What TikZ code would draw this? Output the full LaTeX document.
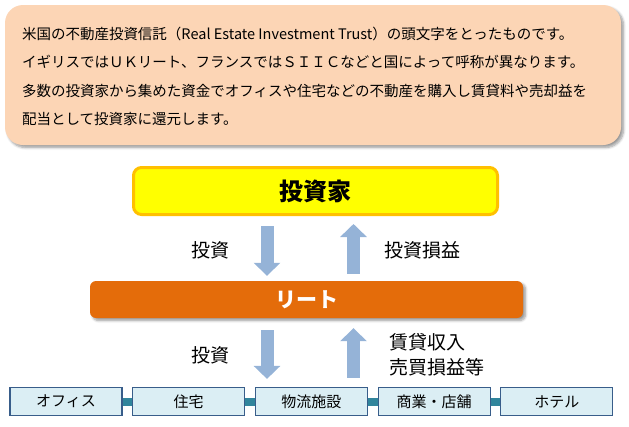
\documentclass[tikz,border=0pt]{standalone}
\usepackage{fontspec}
\setmainfont{Noto Sans CJK JP}
\usetikzlibrary{arrows.meta,positioning,shadows.blur}
\definecolor{jpeach}{HTML}{FCD5B5}
\definecolor{jyellow}{HTML}{FFFF00}
\definecolor{jgold}{HTML}{FFC000}
\definecolor{jorange}{HTML}{E46C0A}
\definecolor{jarrow}{HTML}{95B3D7}
\definecolor{jcell}{HTML}{DBEEF4}
\definecolor{jcellline}{HTML}{385D8A}
\definecolor{jlink}{HTML}{31859C}

\tikzset{
  softshadow/.style={blur shadow={shadow xshift=2.5pt,shadow yshift=-2.5pt,
      shadow blur steps=6,shadow blur radius=2.5pt,shadow opacity=40}},
  flowarrow/.style={jarrow,line width=13pt,-{Triangle[width=26pt,length=13pt]}},
  arrowlabel/.style={font=\fontsize{19}{25}\selectfont,inner sep=0pt},
  cell/.style={draw=jcellline,fill=jcell,line width=1.2pt,minimum width=112pt,
      minimum height=28pt,inner sep=0pt,font=\fontsize{15}{18}\selectfont},
  cellink/.style={jlink,line width=8pt}
}

\begin{document}
\begin{tikzpicture}[x=1pt,y=-1pt]
  \useasboundingbox (0,0) rectangle (629,426);

  % ---- Explanation box ------------------------------------
  \node[fill=jpeach,rounded corners=18pt,softshadow,minimum width=616pt,
        minimum height=140pt,inner sep=0pt] (intro) at (313,75) {};
  \node[anchor=west,align=left,inner sep=0pt,
        font=\fontsize{14.5}{28.3}\selectfont] (introtext) at ([xshift=17pt,yshift=-1.5pt]intro.west)
    {米国の不動産投資信託（Real Estate Investment Trust）の頭文字をとったものです。\\
     イギリスではＵＫリート、フランスではＳＩＩＣなどと国によって呼称が異なります。\\
     多数の投資家から集めた資金でオフィスや住宅などの不動産を購入し賃貸料や売却益を\\
     配当として投資家に還元します。};

  % ---- Investor and REIT ----------------------------------
  \node[draw=jgold,fill=jyellow,line width=3pt,rounded corners=8pt,
        minimum width=364pt,minimum height=47pt,
        font=\fontsize{24}{28}\selectfont\bfseries] (investor) at (315.5,191) {投資家};
  \node[fill=jorange,rounded corners=6pt,softshadow,text=white,
        minimum width=433pt,minimum height=37pt,
        font=\fontsize{21}{25}\selectfont\bfseries] (reit) at (306.5,299.5) {リート};

  % ---- Properties -----------------------------------------
  \node[cell] (office) at (66,401.5) {オフィス};
  \node[cell,right=9.5pt of office] (house) {住宅};
  \node[cell,right=9.5pt of house] (logistics) {物流施設};
  \node[cell,right=9.5pt of logistics] (retail) {商業・店舗};
  \node[cell,right=9.5pt of retail] (hotel) {ホテル};
  \draw[cellink] (office) -- (house);
  \draw[cellink] (house) -- (logistics);
  \draw[cellink] (logistics) -- (retail);
  \draw[cellink] (retail) -- (hotel);

  % ---- Money flows ----------------------------------------
  \coordinate (dn) at (267,0);
  \coordinate (up) at (353.5,0);
  \draw[flowarrow,shorten <=10pt,shorten >=5pt] (dn |- investor.south) -- (dn |- reit.north);
  \draw[flowarrow,shorten <=7pt,shorten >=8pt] (up |- reit.north) -- (up |- investor.south);
  \draw[flowarrow,shorten <=12pt,shorten >=8pt] (dn |- reit.south) -- (dn |- logistics.north);
  \draw[flowarrow,shorten <=9pt,shorten >=10pt] (up |- logistics.north) -- (up |- reit.south);

  % Labels
  \node[arrowlabel] (invest1) at (210,250) {投資};
  \node[arrowlabel,anchor=west] (gain) at (384,250) {投資損益};
  \node[arrowlabel] (invest2) at (210,355) {投資};
  \node[arrowlabel,anchor=west,align=left] (income) at (389,354.5) {賃貸収入\\売買損益等};

\end{tikzpicture}
\end{document}
